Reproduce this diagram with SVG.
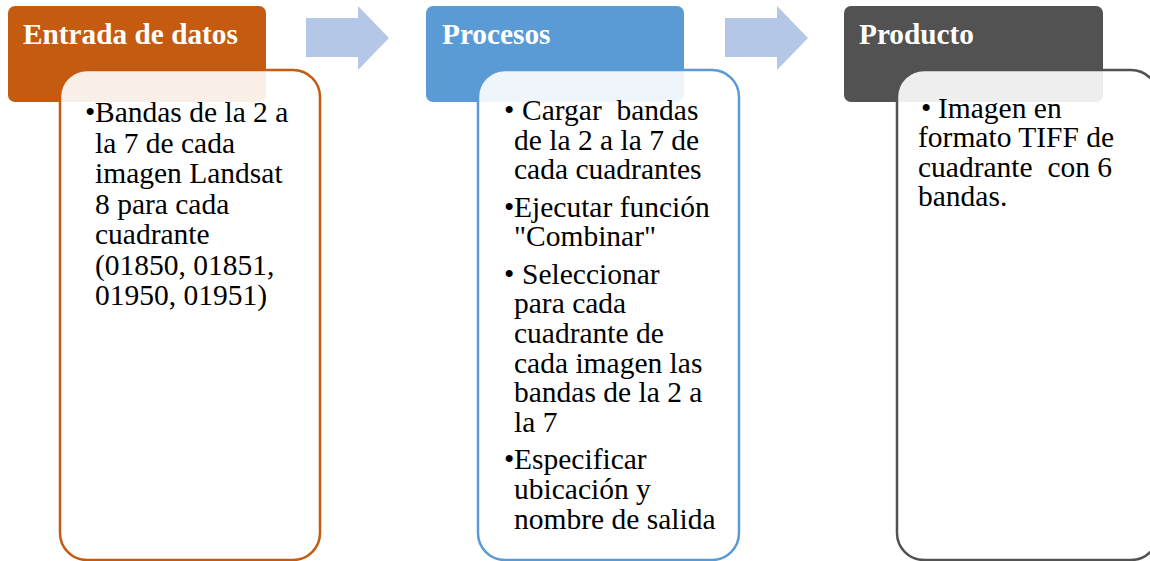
<svg xmlns="http://www.w3.org/2000/svg" width="1150" height="561" viewBox="0 0 1150 561">
<style>
.hdr{stroke:none}
.body{fill:#ffffff;fill-opacity:0.9;stroke-width:2.5}
.ht{font-family:"Liberation Serif","Times New Roman",serif;font-weight:bold;font-size:29.3px;fill:#ffffff}
.bt{font-family:"Liberation Serif","Times New Roman",serif;font-size:29.5px;fill:#000000}
.arrow{fill:#b4c7e7}
</style>
<rect width="1150" height="561" fill="#ffffff"/>
<g id="connectors">
<polygon class="arrow" points="306,18 358,18 358,6 389,38 358,70 358,57 306,57"/>
<polygon class="arrow" points="725,18 777,18 777,6 808,38 777,70 777,57 725,57"/>
</g>
<g id="entrada">
<rect class="hdr" x="8" y="6" width="258" height="96" rx="7" fill="#c55a11"/>
<text class="ht" x="23" y="44">Entrada de datos</text>
<rect class="body" x="60" y="70" width="260" height="490" rx="27" stroke="#c55a11"/>
<text class="bt" x="85" y="122">•</text>
<text class="bt">
<tspan x="95" y="122">Bandas de la 2 a</tspan>
<tspan x="95" y="152.5">la 7 de cada</tspan>
<tspan x="95" y="183">imagen Landsat</tspan>
<tspan x="95" y="213.5">8 para cada</tspan>
<tspan x="95" y="244">cuadrante</tspan>
<tspan x="95" y="274.5">(01850, 01851,</tspan>
<tspan x="95" y="305">01950, 01951)</tspan>
</text>
</g>
<g id="procesos">
<rect class="hdr" x="426" y="6" width="258" height="96" rx="7" fill="#5b9bd5"/>
<text class="ht" x="442" y="44">Procesos</text>
<rect class="body" x="478" y="70" width="261" height="490" rx="27" stroke="#5b9bd5"/>
<text class="bt" x="504" y="120">•</text>
<text class="bt" x="504" y="216.6">•</text>
<text class="bt" x="504" y="283.5">•</text>
<text class="bt" x="504" y="469.2">•</text>
<text class="bt" xml:space="preserve"><tspan x="522" y="120">Cargar  bandas</tspan></text>
<text class="bt">
<tspan x="514" y="149.7">de la 2 a la 7 de</tspan>
<tspan x="514" y="179.4">cada cuadrantes</tspan>
<tspan x="514" y="216.6">Ejecutar función</tspan>
<tspan x="514" y="246.3">"Combinar"</tspan>
<tspan x="522" y="283.5">Seleccionar</tspan>
<tspan x="514" y="313.2">para cada</tspan>
<tspan x="514" y="342.9">cuadrante de</tspan>
<tspan x="514" y="372.6">cada imagen las</tspan>
<tspan x="514" y="402.3">bandas de la 2 a</tspan>
<tspan x="514" y="432">la 7</tspan>
<tspan x="514" y="469.2">Especificar</tspan>
<tspan x="514" y="498.9">ubicación y</tspan>
<tspan x="514" y="528.6">nombre de salida</tspan>
</text>
</g>
<g id="producto">
<rect class="hdr" x="844" y="6" width="259" height="96" rx="7" fill="#525252"/>
<text class="ht" x="859" y="44">Producto</text>
<rect class="body" x="897" y="70" width="261" height="490" rx="27" stroke="#525252"/>
<text class="bt" x="921" y="117.5">•</text>
<text class="bt" xml:space="preserve"><tspan x="938" y="117.5">Imagen en</tspan><tspan x="918" y="147">formato TIFF de</tspan><tspan x="918" y="176.5">cuadrante  con 6</tspan><tspan x="918" y="206">bandas.</tspan></text>
</g>
</svg>
